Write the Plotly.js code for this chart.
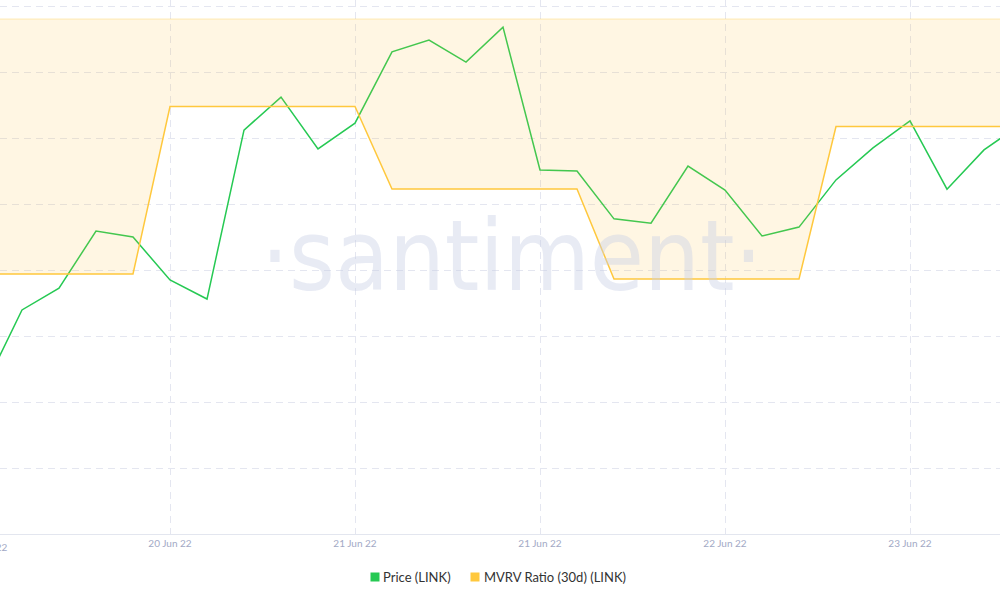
<!DOCTYPE html>
<html>
<head>
<meta charset="utf-8">
<script src="https://cdn.plot.ly/plotly-3.0.1.min.js"></script>
<style>
  html, body { margin: 0; padding: 0; background: #ffffff; }
  #chart { width: 1000px; height: 600px; }
</style>
</head>
<body>
<div id="chart"></div>
<script>
// Sampling points (every 5th point carries a date label)
const pointIndex = [0, 1, 2, 3, 4, 5, 6, 7, 8, 9, 10, 11, 12, 13, 14,
                    15, 16, 17, 18, 19, 20, 21, 22, 23, 24, 25, 26, 27, 28];

// LINK price, USD
const priceLink = [6.048, 6.279, 6.345, 6.518, 6.500, 6.370, 6.312, 6.824, 6.924, 6.767,
                   6.845, 7.061, 7.097, 7.030, 7.136, 6.703, 6.700, 6.555, 6.542, 6.715,
                   6.642, 6.503, 6.530, 6.673, 6.770, 6.852, 6.645, 6.764, 6.842];

// MVRV ratio (30d) for LINK
const mvrvLink = [0.898, 0.898, 0.898, 0.898, 0.898, 0.965, 0.965, 0.965, 0.965, 0.965,
                  0.965, 0.932, 0.932, 0.932, 0.932, 0.932, 0.932, 0.896, 0.896, 0.896,
                  0.896, 0.896, 0.896, 0.957, 0.957, 0.957, 0.957, 0.957, 0.957];

// Upper bound of the MVRV band
const mvrvCeiling = 1.0;

// Date labels on the time axis
const tickIndex = [0, 5, 10, 15, 20, 25];
const tickLabels = ['19 Jun 22', '20 Jun 22', '21 Jun 22', '21 Jun 22', '22 Jun 22', '23 Jun 22'];

const seriesNames = ['Price (LINK)', 'MVRV Ratio (30d) (LINK)'];
const seriesColors = ['#26c953', '#ffc83d'];

const X_RANGE = [0.4054, 27.4324];
const MARGIN_B = 66;
const PLOT_H = 600 - MARGIN_B;
const GRID = '#e4e6f0';
const TICK_COLOR = '#a2a9c5';

// pixel helpers for paper-referenced items below the plot
const px2paperX = px => px / 1000;
const px2paperY = py => (PLOT_H - py) / PLOT_H;
const idx2paperX = i => (i - X_RANGE[0]) / (X_RANGE[1] - X_RANGE[0]);

const traces = [
  {
    x: [pointIndex[0], pointIndex[pointIndex.length - 1]],
    y: [mvrvCeiling, mvrvCeiling],
    yaxis: 'y2',
    mode: 'lines',
    line: { color: 'rgba(255, 200, 61, 0.35)', width: 1 },
    hoverinfo: 'skip',
    showlegend: false
  },
  {
    x: pointIndex,
    y: mvrvLink,
    yaxis: 'y2',
    name: seriesNames[1],
    mode: 'lines',
    line: { color: seriesColors[1], width: 1.5 },
    fill: 'tonexty',
    fillcolor: 'rgba(255, 193, 60, 0.14)',
    showlegend: false
  },
  {
    x: pointIndex,
    y: priceLink,
    name: seriesNames[0],
    mode: 'lines',
    line: { color: seriesColors[0], width: 1.5 },
    showlegend: false
  }
];

const annotations = [
  {
    xref: 'paper', yref: 'paper',
    x: px2paperX(511), y: px2paperY(256),
    xanchor: 'center', yanchor: 'middle',
    text: '\u00b7santiment\u00b7',
    showarrow: false,
    font: { family: '"DejaVu Sans Condensed", Roboto, sans-serif', size: 98, color: 'rgba(200, 208, 228, 0.42)' }
  },
  // first date label sits just past the left edge
  {
    xref: 'paper', yref: 'paper',
    x: idx2paperX(tickIndex[0]), y: px2paperY(547),
    xanchor: 'center', yanchor: 'middle',
    text: tickLabels[0],
    showarrow: false,
    font: { family: 'Lato', size: 10, color: TICK_COLOR }
  }
];

const shapes = [];
const legendItems = [
  { name: seriesNames[0], color: seriesColors[0], box: 370.5, text: 381 },
  { name: seriesNames[1], color: seriesColors[1], box: 470.5, text: 482 }
];
legendItems.forEach(item => {
  shapes.push({
    type: 'rect', xref: 'paper', yref: 'paper',
    x0: px2paperX(item.box), x1: px2paperX(item.box + 9),
    y0: px2paperY(581.5), y1: px2paperY(572.5),
    fillcolor: item.color, line: { width: 0 }
  });
  annotations.push({
    xref: 'paper', yref: 'paper',
    x: px2paperX(item.text), y: px2paperY(577),
    xanchor: 'left', yanchor: 'middle',
    text: item.name, showarrow: false,
    font: { family: 'Lato', size: 13, color: '#333333' }
  });
});

const layout = {
  width: 1000,
  height: 600,
  margin: { l: 0, r: 0, t: 0, b: MARGIN_B, pad: 0 },
  paper_bgcolor: '#ffffff',
  plot_bgcolor: '#ffffff',
  showlegend: false,
  xaxis: {
    range: X_RANGE,
    tickmode: 'array',
    tickvals: tickIndex,
    ticktext: tickLabels,
    showgrid: true,
    gridcolor: GRID,
    griddash: '7px,5px',
    gridwidth: 1,
    zeroline: false,
    showline: true,
    linecolor: '#e3e6ef',
    linewidth: 1,
    ticks: '',
    tickfont: { family: 'Lato', size: 10, color: TICK_COLOR },
    fixedrange: true
  },
  yaxis: {
    range: [5.6, 5.6 + PLOT_H / 330],
    tick0: 5.6,
    dtick: 0.2,
    showgrid: true,
    gridcolor: GRID,
    griddash: '7px,5px',
    gridwidth: 1,
    zeroline: false,
    showticklabels: false,
    ticks: '',
    fixedrange: true
  },
  yaxis2: {
    overlaying: 'y',
    range: [0.794, 1.0076],
    visible: false,
    showgrid: false,
    fixedrange: true
  },
  annotations: annotations,
  shapes: shapes
};

Plotly.newPlot('chart', traces, layout, { displayModeBar: false, staticPlot: true });
</script>
</body>
</html>
